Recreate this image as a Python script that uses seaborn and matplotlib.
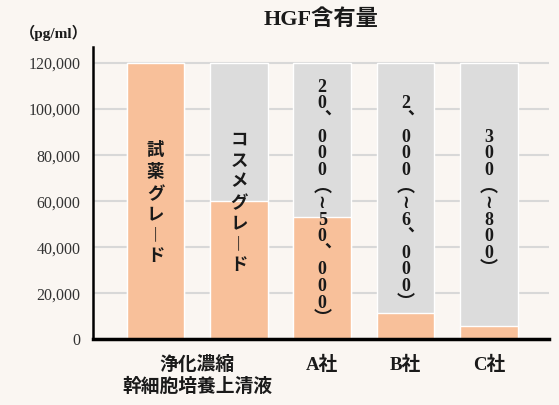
import seaborn as sns
import matplotlib.pyplot as plt
import pandas as pd

# data
categories = ["試薬グレード", "コスメグレード", "A社", "B社", "C社"]
upper_values = [120000, 120000, 120000, 120000, 120000]
measured_values = [120000, 60000, 53300, 11300, 5800]
bar_labels = ["試薬グレード", "コスメグレード", "20、000(~50、000)",
              "2、000(~6、000)", "300(~800)"]
tick_positions = [0.5, 2, 3, 4]
tick_labels = ["浄化濃縮\n幹細胞培養上清液", "A社", "B社", "C社"]
y_ticks = [0, 20000, 40000, 60000, 80000, 100000, 120000]

bg = "#faf6f2"
orange = "#f8c09a"
gray = "#dcdcdc"

sns.set_theme(style="white")
plt.rcParams["font.family"] = ["Liberation Serif", "Noto Sans CJK JP", "DejaVu Sans"]

df = pd.DataFrame({"cat": categories, "upper": upper_values, "measured": measured_values})

fig = plt.figure(figsize=(5.59, 4.05), dpi=100, facecolor=bg)
ax = fig.add_axes([0.1664, 0.1622, 0.8156, 0.7218])
ax.set_facecolor(bg)

sns.barplot(data=df, x="cat", y="upper", color=gray, saturation=1, width=0.69, ax=ax)
sns.barplot(data=df, x="cat", y="measured", color=orange, saturation=1, width=0.69, ax=ax)


def vertical(s):
    # turn a string into top-to-bottom writing
    swap = {"(": "︵", ")": "︶", "~": "≀", "ー": "︱", "、": "︑"}
    return "\n".join(swap.get(c, c) for c in s)


for i, lab in enumerate(bar_labels):
    big = i < 2
    ax.text(i, 59000, vertical(lab), ha="center", va="center",
            fontsize=12.5 if big else 13, fontweight="bold", color="#1a1a1a",
            linespacing=1.4 if big else 0.97,
            family=["Liberation Serif", "Noto Sans CJK JP", "DejaVu Sans"])

ax.set_xlim(-0.75, 4.72)
ax.set_ylim(0, 127000)
ax.set_yticks(y_ticks)
ax.set_yticklabels([f"{v:,}" for v in y_ticks], fontsize=11.5, color="#333333")
ax.set_xticks(tick_positions)
ax.set_xticklabels(tick_labels, fontsize=13.5, fontweight="bold", color="#1a1a1a",
                   linespacing=1.25)
ax.tick_params(axis="both", length=0)
ax.tick_params(axis="y", pad=9)
ax.tick_params(axis="x", pad=12)
ax.set_xlabel("")
ax.set_ylabel("")

ax.yaxis.grid(True, color="#d8d8d8", linewidth=1.5)
ax.set_axisbelow(True)
sns.despine(ax=ax)
ax.spines["left"].set_linewidth(1.8)
ax.spines["left"].set_color("black")
ax.spines["bottom"].set_linewidth(2.5)
ax.spines["bottom"].set_color("black")

ax.set_title("HGF含有量", fontsize=16, fontweight="bold", color="#1a1a1a", pad=16)
fig.text(0.036, 0.918, "（pg/ml）", fontsize=11, fontweight="bold", color="#1a1a1a",
         ha="left", va="center")

fig.savefig("out.png", dpi=100, facecolor=bg)
